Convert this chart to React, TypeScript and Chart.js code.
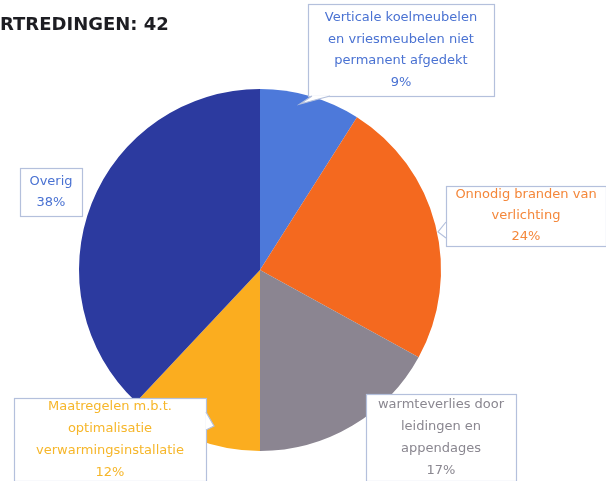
import React, { useEffect, useRef } from "react";
import { Chart, registerables } from "chart.js";

Chart.register(...registerables);

const titleText = "RTREDINGEN: 42";
const categories = [
  "Verticale koelmeubelen en vriesmeubelen niet permanent afgedekt",
  "Onnodig branden van verlichting",
  "Warmteverlies door leidingen en appendages",
  "Maatregelen m.b.t. optimalisatie verwarmingsinstallatie",
  "Overig",
];
const values = [9, 24, 17, 12, 38];
const labelLines = [
  ["Verticale koelmeubelen", "en vriesmeubelen niet", "permanent afgedekt", "9%"],
  ["Onnodig branden van", "verlichting", "24%"],
  ["warmteverlies door", "leidingen en", "appendages", "17%"],
  ["Maatregelen m.b.t.", "optimalisatie", "verwarmingsinstallatie", "12%"],
  ["Overig", "38%"],
];
const colors = ["#4d79da", "#f4691f", "#8b8591", "#fbad1f", "#2c3a9f"];
const textColors = ["#4a72d2", "#f4873a", "#8a8790", "#f6b62a", "#4a72d2"];
// label boxes: x, y, w, h, line spacing, tail [x1,y1,tipX,tipY,x2,y2]
const boxes = [
  { x: 308, y: 4, w: 186, h: 92, lh: 21.5, tail: [312, 96, 300, 104, 330, 96] },
  { x: 446, y: 186, w: 160, h: 60, lh: 21, tail: [446, 222, 438, 232, 446, 238] },
  { x: 366, y: 394, w: 150, h: 87, lh: 22, tail: null },
  { x: 14, y: 398, w: 192, h: 83, lh: 22, tail: [206, 412, 214, 426, 206, 430] },
  { x: 20, y: 168, w: 62, h: 48, lh: 21, tail: null },
];

const labelPlugin = {
  id: "labelBoxes",
  afterDraw(chart: any) {
    const ctx = chart.ctx;
    ctx.save();
    ctx.fillStyle = "#1d1d22";
    ctx.font = "bold 18px 'DejaVu Sans', sans-serif";
    ctx.textAlign = "left";
    ctx.textBaseline = "middle";
    ctx.fillText(titleText, 0, 25);
    boxes.forEach((b, i) => {
      ctx.fillStyle = "#ffffff";
      ctx.fillRect(b.x, b.y, b.w, b.h);
      ctx.strokeStyle = "#b4c0dc";
      ctx.lineWidth = 1.2;
      ctx.strokeRect(b.x + 0.5, b.y + 0.5, b.w, b.h);
      if (b.tail) {
        const t = b.tail;
        ctx.beginPath();
        ctx.moveTo(t[0], t[1]);
        ctx.lineTo(t[2], t[3]);
        ctx.lineTo(t[4], t[5]);
        ctx.closePath();
        ctx.fillStyle = "#ffffff";
        ctx.fill();
        ctx.beginPath();
        ctx.moveTo(t[0], t[1]);
        ctx.lineTo(t[2], t[3]);
        ctx.lineTo(t[4], t[5]);
        ctx.stroke();
      }
      ctx.fillStyle = textColors[i];
      ctx.font = "13px 'DejaVu Sans', sans-serif";
      ctx.textAlign = "center";
      const lines = labelLines[i];
      const total = (lines.length - 1) * b.lh;
      const cy = b.y + b.h / 2 - total / 2;
      lines.forEach((l, k) => ctx.fillText(l, b.x + b.w / 2, cy + k * b.lh));
    });
    ctx.restore();
  },
};

export default function App() {
  const ref = useRef<HTMLCanvasElement>(null);
  useEffect(() => {
    document.body.style.margin = "0";
    const chart = new Chart(ref.current!, {
      type: "pie",
      data: {
        labels: categories,
        datasets: [
          {
            data: values,
            backgroundColor: colors,
            borderWidth: 0,
          },
        ],
      },
      options: {
        animation: false,
        responsive: false,
        layout: { padding: { left: 79, right: 165, top: 89, bottom: 30 } },
        plugins: {
          legend: { display: false },
          tooltip: { enabled: false },
        },
      },
      plugins: [labelPlugin],
    });
    return () => chart.destroy();
  }, []);
  return (
    <div style={{ width: 606, height: 481, background: "#fff" }}>
      <canvas ref={ref} width={606} height={481} />
    </div>
  );
}
